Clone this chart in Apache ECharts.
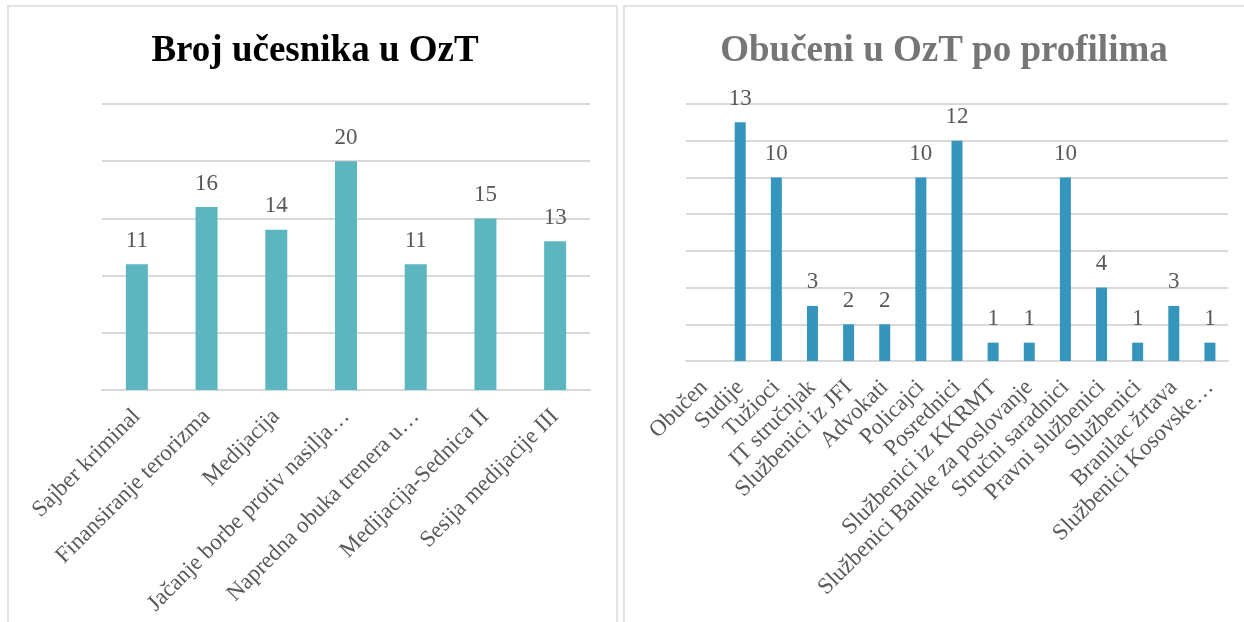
<!DOCTYPE html>
<html>
<head>
<meta charset="utf-8">
<script src="https://cdn.jsdelivr.net/npm/echarts@6/dist/echarts.min.js"></script>
<style>
  html, body { margin: 0; padding: 0; background: #fff; }
  #chart { width: 1244px; height: 622px; }
</style>
</head>
<body>
<div id="chart"></div>
<script>
  // lijevi grafikon
  const obukeKategorije = ['Sajber kriminal', 'Finansiranje terorizma', 'Medijacija', 'Jačanje borbe protiv nasilja…', 'Napredna obuka trenera u…', 'Medijacija-Sednica II', 'Sesija medijacije III'];
  const obukeVrijednosti = [11, 16, 14, 20, 11, 15, 13];
  const obukeOsa = { min: 0, max: 25, interval: 5 };

  // desni grafikon
  const profiliKategorije = ['Obučen', 'Sudije', 'Tužioci', 'IT stručnjak', 'Službenici iz JFI', 'Advokati', 'Policajci', 'Posrednici', 'Službenici iz KKRMT', 'Službenici Banke za poslovanje', 'Stručni saradnici', 'Pravni službenici', 'Službenici', 'Branilac žrtava', 'Službenici Kosovske…'];
  const profiliVrijednosti = [null, 13, 10, 3, 2, 2, 10, 12, 1, 1, 10, 4, 1, 3, 1];
  const profiliOsa = { min: 0, max: 14, interval: 2 };

  const font = 'Liberation Serif';
  const labelColor = '#595959';

  const xAxisBase = {
    type: 'category',
    axisLine: { show: true, lineStyle: { color: '#d9d9d9', width: 2 } },
    axisTick: { show: false },
    axisLabel: { interval: 0, rotate: 45, color: labelColor, fontFamily: font, fontSize: 23, margin: 23 }
  };
  const yAxisBase = {
    type: 'value',
    axisLine: { show: false },
    axisTick: { show: false },
    axisLabel: { show: false },
    splitLine: { lineStyle: { color: '#d9d9d9', width: 2 } }
  };

  const chart = echarts.init(document.getElementById('chart'));
  chart.setOption({
    animation: false,
    graphic: [
      { type: 'rect', shape: { x: 8, y: 6, width: 609, height: 640 }, style: { fill: 'none', stroke: '#e2e2e2', lineWidth: 2 } },
      { type: 'rect', shape: { x: 624, y: 6, width: 640, height: 640 }, style: { fill: 'none', stroke: '#e2e2e2', lineWidth: 2 } }
    ],
    title: [
      { text: 'Broj učesnika u OzT', left: 310, top: 28, textAlign: 'center',
        textStyle: { fontFamily: font, fontSize: 37, fontWeight: 'bold', color: '#000' } },
      { text: 'Obučeni u OzT po profilima', left: 939, top: 28, textAlign: 'center',
        textStyle: { fontFamily: font, fontSize: 37, fontWeight: 'bold', color: '#767676' } }
    ],
    grid: [
      { left: 102, top: 104, width: 488, height: 286 },
      { left: 686, top: 104, width: 542, height: 257 }
    ],
    xAxis: [
      Object.assign({ gridIndex: 0, data: obukeKategorije }, xAxisBase),
      Object.assign({ gridIndex: 1, data: profiliKategorije }, xAxisBase)
    ],
    yAxis: [
      Object.assign({ gridIndex: 0 }, obukeOsa, yAxisBase),
      Object.assign({ gridIndex: 1 }, profiliOsa, yAxisBase)
    ],
    series: [
      {
        type: 'bar', xAxisIndex: 0, yAxisIndex: 0, data: obukeVrijednosti,
        barWidth: 22,
        itemStyle: { color: '#5bb6c0' },
        label: { show: true, position: 'top', distance: 12, color: labelColor, fontFamily: font, fontSize: 23 }
      },
      {
        type: 'bar', xAxisIndex: 1, yAxisIndex: 1, data: profiliVrijednosti,
        barWidth: 11,
        itemStyle: { color: '#3595bc' },
        label: { show: true, position: 'top', distance: 12, color: labelColor, fontFamily: font, fontSize: 23 }
      }
    ]
  });
</script>
</body>
</html>
